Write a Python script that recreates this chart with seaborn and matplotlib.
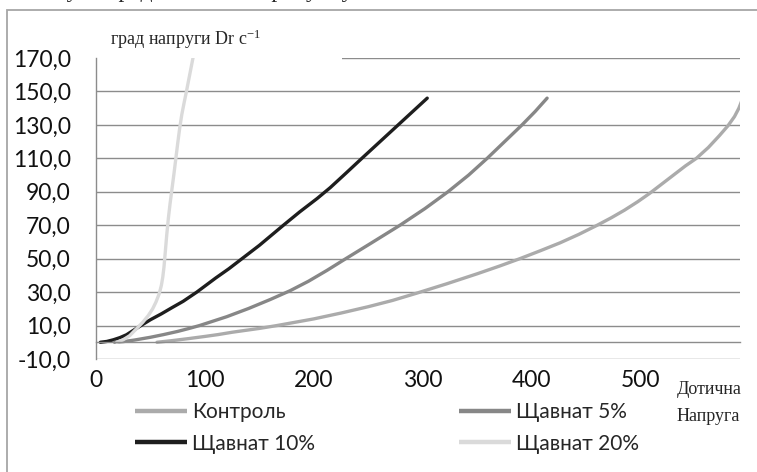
import numpy as np
import pandas as pd
import matplotlib
matplotlib.use('Agg')
import matplotlib.pyplot as plt
from matplotlib.patches import Rectangle
import seaborn as sns

# ---- data (x = Дотична напруга, y = град напруги Dr) ----
kontrol_x = [56, 70, 85, 100, 112, 125, 138, 150, 166, 183, 200, 225, 250, 272, 295, 322, 350, 370,
             389, 408, 426, 443, 460, 473, 485, 497, 508, 520, 530, 541, 551, 562, 572, 580, 586, 590, 593]
kontrol_y = [0, 1, 2.2, 3.5, 4.6, 6, 7.2, 8.3, 10, 12, 14, 17.5, 21.3, 25, 29.5, 35, 41, 45.5,
             50, 54.8, 59.5, 64.5, 70, 74.5, 79, 84, 89, 95, 100, 105.5, 110, 116.5, 123.5, 129.5, 135, 140, 145]

sh5_x = [17, 25, 35, 50, 62, 75, 85, 95, 120, 140, 160, 178, 195, 212, 228, 253, 279, 302, 323,
         342, 359, 375, 391, 403, 414]
sh5_y = [0, 0.4, 1.3, 3, 4.6, 6.5, 8.2, 10, 15.3, 20.2, 25.6, 30.8, 36.5, 43, 49.5, 59.5, 70, 80, 90,
         100, 110, 120, 130, 138, 146]

sh10_x = [4, 10, 16, 22, 28, 34, 40, 50, 60, 70, 80, 92.5, 110, 122, 134, 150, 172, 187, 203, 215,
          230, 244, 260, 277, 290, 304]
sh10_y = [0, 0.5, 1.5, 2.8, 4.5, 7, 9.5, 13.5, 17, 20.8, 24.5, 30, 38.5, 44, 50, 58, 70, 78, 86, 92.5,
          101.5, 110, 119.6, 129.8, 137.6, 146]

sh20_x = [19, 25, 31, 37, 43, 48, 52, 55, 58, 60, 61.3, 62.4, 63.6, 64.9, 66.4, 68, 69.8, 71.6,
          73.3, 75, 76.8, 78.7, 80.8, 83, 86, 89, 90]
sh20_y = [0, 1.5, 4, 8, 12, 16, 20, 24, 29, 34, 39, 45, 54, 64, 74, 83, 92, 101,
          110, 119, 128, 136, 143, 150, 160, 170, 173]

series_names = ['Контроль', 'Щавнат 10%', 'Щавнат 5%', 'Щавнат 20%']
series_colors = ['#ababab', '#1e1e1e', '#878787', '#dadada']

y_ticks = [-10, 10, 30, 50, 70, 90, 110, 130, 150, 170]
y_ticklabels = [f'{v:.1f}'.replace('.', ',') for v in y_ticks]
x_ticks = [0, 100, 200, 300, 400, 500]

frames = []
for name, xs, ys in zip(series_names,
                        [kontrol_x, sh10_x, sh5_x, sh20_x],
                        [kontrol_y, sh10_y, sh5_y, sh20_y]):
    frames.append(pd.DataFrame({'x': xs, 'y': ys, 'series': name}))
df = pd.concat(frames, ignore_index=True)

# ---- style ----
sns.set_style('white')
plt.rcParams.update({
    'font.family': ['Lato', 'DejaVu Sans'],
    'mathtext.fontset': 'custom',
    'mathtext.rm': 'Liberation Serif',
    'mathtext.it': 'Liberation Serif:italic',
})
GRID = '#8c8c8c'
SERIF = ['Liberation Serif', 'DejaVu Serif']

fig = plt.figure(figsize=(7.57, 4.72), dpi=100)
ax = fig.add_axes([0.1268, 0.2394, 0.8507, 0.6377])

sns.lineplot(data=df, x='x', y='y', hue='series', hue_order=series_names,
             palette=dict(zip(series_names, series_colors)),
             estimator=None, sort=False, linewidth=2.4, ax=ax,
             solid_capstyle='round', solid_joinstyle='round')

ax.set_xlim(0, 591)
ax.set_ylim(-10, 170)
ax.set_yticks(y_ticks)
ax.set_yticklabels(y_ticklabels)
ax.set_xticks(x_ticks)
ax.set_xlabel('')
ax.set_ylabel('')
ax.grid(axis='y', color=GRID, linewidth=1.0)
ax.grid(axis='x', visible=False)
ax.set_axisbelow(True)

for s in ['top', 'right']:
    ax.spines[s].set_visible(False)
ax.spines['left'].set_color(GRID)
ax.spines['left'].set_linewidth(1.0)
ax.spines['bottom'].set_position(('data', 0))
ax.spines['bottom'].set_color(GRID)
ax.spines['bottom'].set_linewidth(1.0)

ax.tick_params(axis='y', length=0, pad=18, labelsize=16.5, labelcolor='#111111')
ax.tick_params(axis='x', direction='out', length=5, width=1.0, color=GRID,
               pad=15, labelsize=16.5, labelcolor='#111111')

# white box behind the axis title (hides the left part of the top gridline)
ax.add_patch(Rectangle((0, 0.975), 0.382, 0.05, transform=ax.transAxes,
                       facecolor='white', edgecolor='none', zorder=1, clip_on=False))

fig.text(0.145, 0.905, 'град напруги Dr c$^{-1}$', fontsize=13, family=SERIF, va='baseline')
fig.text(0.894, 0.146, 'Дотична\nНапруга', fontsize=13, linespacing=1.75,
         family=SERIF, va='center', ha='left')

# cut-off page text above the chart frame
fig.text(-0.004, 1.0064, 'ені обсуль представлені на рисунку 2-3.', fontsize=17,
         family=SERIF, va='baseline')

# chart frame
fig.patches.append(Rectangle((7 / 757, -0.05), 1.2, 1 - 10 / 472 + 0.05,
                             transform=fig.transFigure, facecolor='none',
                             edgecolor='#a6a6a6', linewidth=1.3))

sns.move_legend(ax, 'center', bbox_to_anchor=(0.452, -0.229), ncol=2, title=None,
                frameon=False, fontsize=15, handlelength=2.5, handletextpad=0.25,
                columnspacing=6.9, labelspacing=0.55)
for h in ax.get_legend().get_lines():
    h.set_linewidth(3.2)
    h.set_solid_capstyle('butt')

fig.savefig('out.png', dpi=100)
